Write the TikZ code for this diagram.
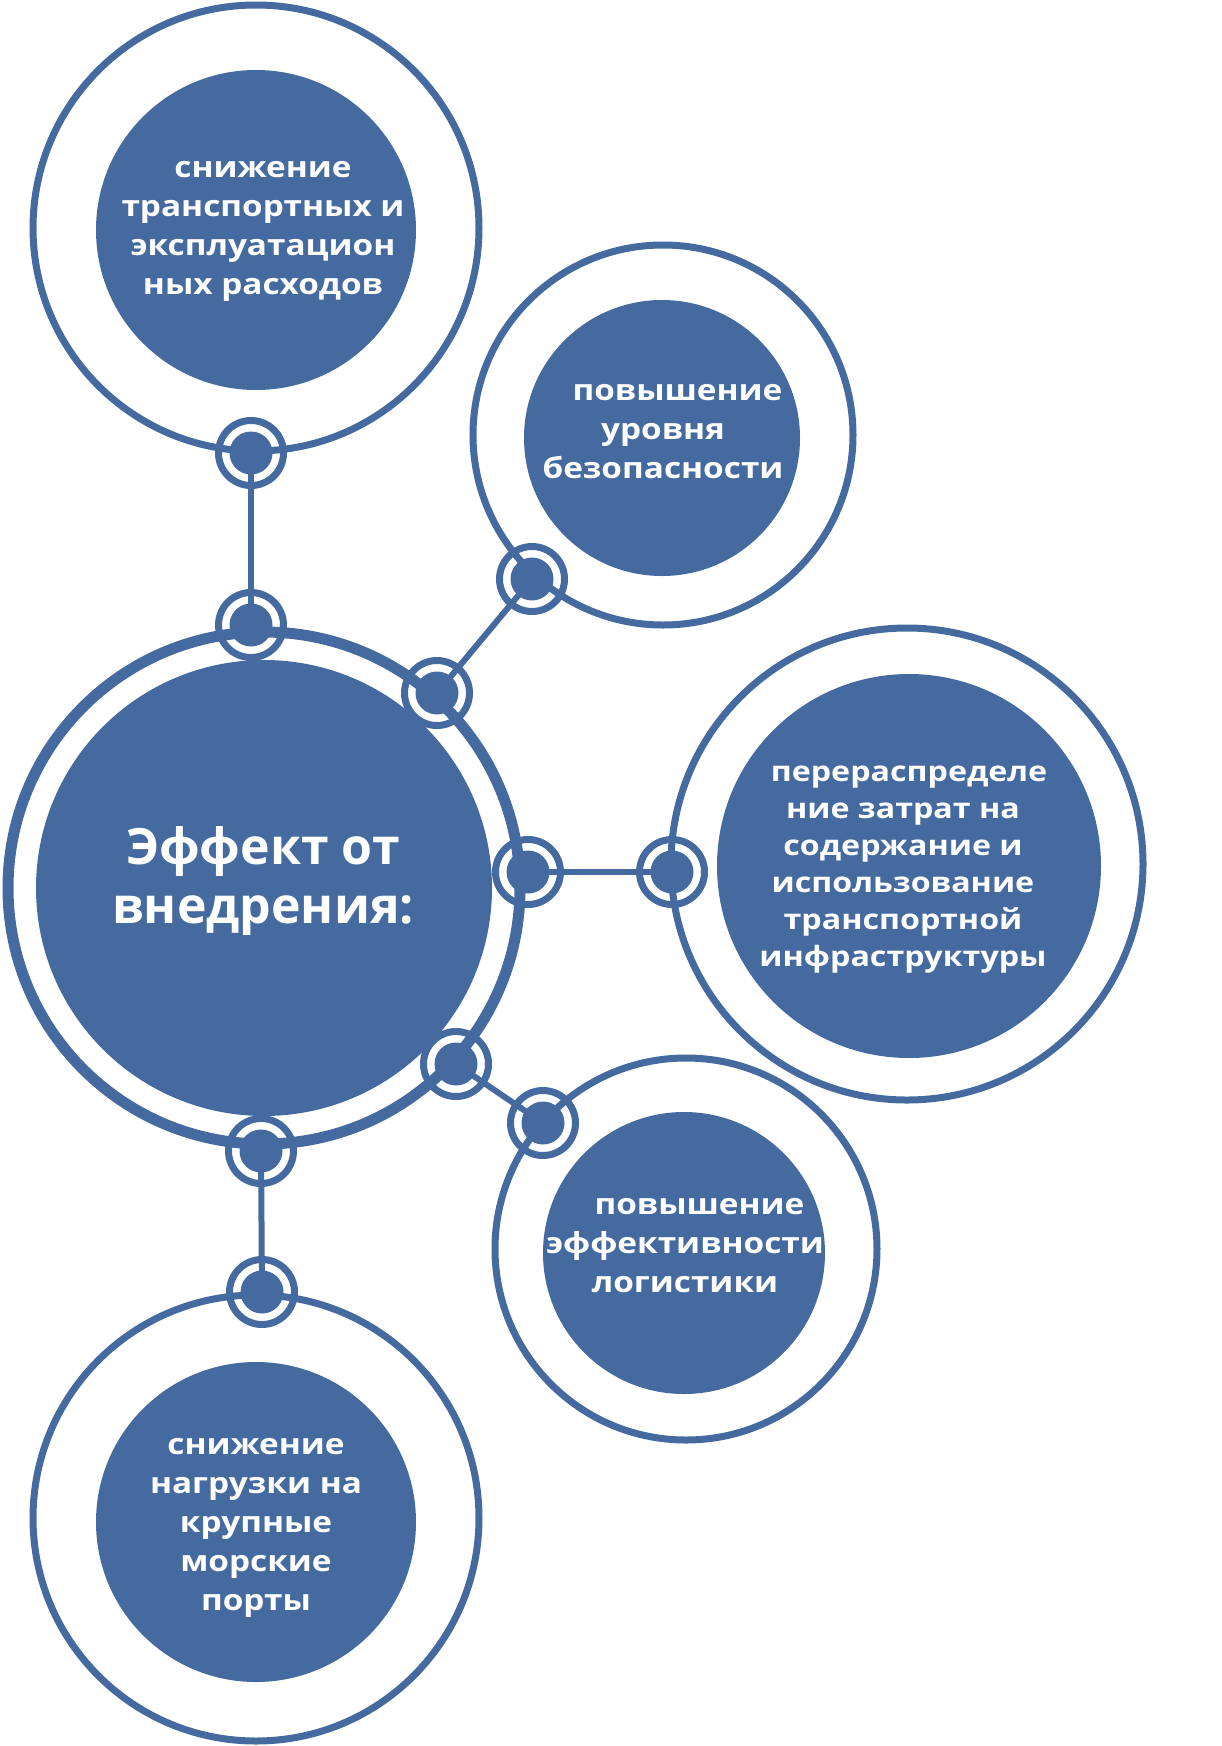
\documentclass[tikz,border=0pt]{standalone}
\usepackage{fontspec}
\setmainfont{Open Sans}
\newfontfamily\widefont{Open Sans}[FakeStretch=1.15]
\definecolor{sblue}{RGB}{69,106,159}
\begin{document}
\begin{tikzpicture}[x=1pt,y=-1pt,
  outer/.style={circle,draw=sblue,line width=7pt,inner sep=0pt},
  inner/.style={circle,fill=sblue,inner sep=0pt},
  lbl/.style={text=white,font=\widefont\bfseries\fontsize{29}{39}\selectfont,align=center,inner sep=0pt},
  biglbl/.style={text=white,font=\bfseries\fontsize{50}{59}\selectfont,align=center,inner sep=0pt},
  ring/.style={circle,draw=sblue,line width=7pt,minimum size=65pt,inner sep=0pt},
  dot/.style={circle,fill=sblue,minimum size=43pt,inner sep=0pt},
  link/.style={draw=sblue,line width=6pt}]
\useasboundingbox (0,0) rectangle (1222,1746);
% outer circles
\node[outer,minimum size=446pt] (tlo) at (256,228) {};
\node[outer,minimum size=380pt] (tro) at (663,435) {};
\node[outer,line width=11pt,minimum size=512pt] (co) at (264,888) {};
\node[outer,minimum size=472pt] (ro) at (907,864) {};
\node[outer,minimum size=382pt] (lro) at (686,1249) {};
\node[outer,minimum size=446pt] (blo) at (256,1518) {};
% inner filled circles
\node[inner,minimum size=320pt] (tli) at (256,230) {};
\node[inner,minimum size=276pt] (tri) at (662,438) {};
\node[inner,minimum size=456pt] (ci) at (264,888) {};
\node[inner,minimum size=384pt] (ri) at (909,866) {};
\node[inner,minimum size=282pt] (lri) at (684,1253) {};
\node[inner,minimum size=320pt] (bli) at (256,1522) {};
% texts
\node[lbl] (tlt) at (263,231) {снижение\\транспортных и\\эксплуатацион\\ных расходов};
\node[lbl] (trt) at (663,432) {\hspace*{29pt}повышение\\уровня\\безопасности};
\node[biglbl] (ct) at (263,881) {Эффект от\\внедрения:};
\node[lbl,font=\widefont\bfseries\fontsize{28}{37}\selectfont] (rt) at (903,870) {\hspace*{12pt}перераспределе\\ние затрат на\\содержание и\\использование\\транспортной\\инфраструктуры};
\node[lbl] (lrt) at (685,1246) {\hspace*{29pt}повышение\\эффективности\\логистики};
\node[lbl] (blt) at (256,1528) {снижение\\нагрузки на\\крупные\\морские\\порты};
% connector rings
\foreach \n/\p in {k1/{(251,453)},k2/{(251,625)},k3/{(437,693)},k4/{(532,579)},k5/{(528,872)},k6/{(672,872)},k7/{(456,1064)},k8/{(543,1123)},k9/{(261,1151)},k10/{(262,1292)}}{
  \node[ring] (\n) at \p {};
  \node[dot] (\n d) at \p {};
}
% links
\draw[link] (k1.center) -- (k2.center);
\draw[link] (k3.center) -- (k4.center);
\draw[link] (k5.center) -- (k6.center);
\draw[link] (k7.center) -- (k8.center);
\draw[link] (k9.center) -- (k10.center);
\end{tikzpicture}
\end{document}
